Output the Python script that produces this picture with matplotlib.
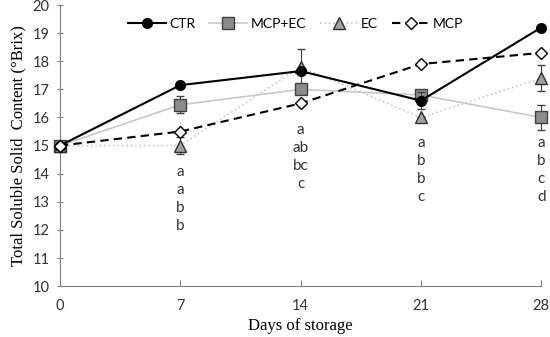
import matplotlib.pyplot as plt
from matplotlib.lines import Line2D

days = [0, 7, 14, 21, 28]
ctr = [15.0, 17.15, 17.65, 16.6, 19.2]
mcp_ec = [15.0, 16.45, 17.0, 16.8, 16.0]
ec = [15.0, 15.0, 17.8, 16.0, 17.4]
mcp = [15.0, 15.5, 16.5, 17.9, 18.3]

ctr_err = [0, 0, 0, 0.3, 0]
mcp_ec_err = [0, 0.3, 0, 0, 0.45]
ec_err = [0, 0.3, 0.65, 0, 0.45]

letter_days = [7, 14, 21, 28]
letters = [["a", "a", "b", "b"], ["a", "ab", "bc", "c"],
           ["a", "b", "b", "c"], ["a", "b", "c", "d"]]
letter_top = [14.07, 15.57, 15.1, 15.1]

fig = plt.figure(figsize=(5.5, 3.37), dpi=100)
ax = fig.add_axes([0.109, 0.151, 0.875, 0.834])

styles = [
    dict(color='black', lw=1.5, ls='-', marker='o', ms=7, mfc='black', mec='black'),
    dict(color='#c8c8c8', lw=1.2, ls='-', marker='s', ms=8, mfc='#8c8c8c', mec='#404040'),
    dict(color='#c8c8c8', lw=1.2, ls=':', marker='^', ms=8, mfc='#a0a0a0', mec='#303030'),
    dict(color='black', lw=1.5, ls=(0, (4, 2.5)), marker='D', ms=6, mfc='white', mec='black'),
]
names = ['CTR', 'MCP+EC', 'EC', 'MCP']
series = [ctr, mcp_ec, ec, mcp]
errs = [ctr_err, mcp_ec_err, ec_err, None]
zs = [4, 3, 3, 5]

handles = []
for vals, err, st, nm, z in zip(series, errs, styles, names, zs):
    if err is not None:
        ax.errorbar(days, vals, yerr=err, fmt='none', ecolor='#404040', capsize=3,
                    elinewidth=0.8, zorder=z - 0.5, clip_on=False)
    ax.plot(days, vals, zorder=z, clip_on=False, **st)
    handles.append(Line2D([], [], **st))

for d, labs, top in zip(letter_days, letters, letter_top):
    for i, s in enumerate(labs):
        ax.text(d, top - i * 0.64, s, ha='center', va='center', fontsize=11,
                family='Lato', color='#333333')

ax.set_xlim(0, 28)
ax.set_ylim(10, 20)
ax.set_xticks(days)
ax.set_yticks(range(10, 21))
for sp in ['top', 'right']:
    ax.spines[sp].set_visible(False)
for sp in ['left', 'bottom']:
    ax.spines[sp].set_color('#808080')
ax.tick_params(axis='x', direction='in', length=4, color='#808080', pad=9)
ax.tick_params(axis='y', direction='inout', length=5, color='#808080', pad=5)
for lab in ax.get_xticklabels() + ax.get_yticklabels():
    lab.set_family('Lato')
    lab.set_fontsize(10.5)
    lab.set_color('#333333')

ax.set_xlabel('Days of storage', family='Liberation Serif', fontsize=12)
ax.set_ylabel('Total Soluble Solid  Content (°Brix)', family='Liberation Serif', fontsize=12)

ax.legend(handles, names, loc='upper center', ncol=4, frameon=False,
          bbox_to_anchor=(0.49, 1.0), prop={'family': 'Lato', 'size': 10},
          handlelength=2.7, columnspacing=1.0, handletextpad=0.25)

fig.savefig('out.png', dpi=100)
